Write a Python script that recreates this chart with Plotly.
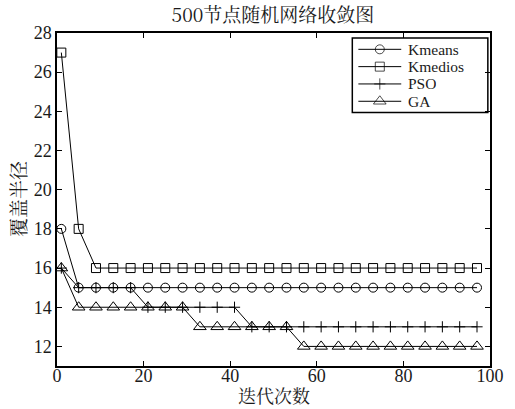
import plotly.graph_objects as go

# Iteration index at which each marker is recorded
iterations = list(range(1, 98, 4))

kmeans = [18] + [15] * 24
kmedios = [27, 18] + [16] * 23
pso = [16, 15, 15, 15, 15, 14, 14, 14, 14, 14, 14] + [13] * 14
ga = [16, 14, 14, 14, 14, 14, 14, 14, 13, 13, 13, 13, 13, 13] + [12] * 11

names = ["Kmeans", "Kmedios", "PSO", "GA"]
symbols = ["circle-open", "square-open", "cross-thin-open", "triangle-up-open"]
sizes = [9, 9, 8, 11]
values = [kmeans, kmedios, pso, ga]

serif = "Liberation Serif, DejaVu Serif, Noto Sans CJK SC, serif"
cjk = "Noto Serif CJK SC, Noto Sans CJK SC, serif"
ink = "#1a1a1a"

fig = go.Figure()
for name, vals, symbol, size in zip(names, values, symbols, sizes):
    fig.add_trace(go.Scatter(
        x=iterations, y=vals, name=name, mode="lines+markers",
        showlegend=False,
        line=dict(color="black", width=1),
        marker=dict(symbol=symbol, size=size, color="black",
                    line=dict(color="black", width=1)),
    ))

# Boxed legend in the upper-right corner, laid out on a unit overlay axis
leg_x0, leg_x1 = 0.682, 0.995
leg_y1 = 0.985
row_h = 0.052
pad = 0.008
line_x0, line_x1 = 0.696, 0.795
text_x = 0.805
leg_y0 = leg_y1 - row_h * len(names) - 2 * pad
fig.add_shape(type="rect", xref="x2", yref="y2",
              x0=leg_x0, x1=leg_x1, y0=leg_y0, y1=leg_y1,
              line=dict(color="black", width=1.5), fillcolor="rgba(0,0,0,0)",
              layer="above")
for i, (name, symbol, size) in enumerate(zip(names, symbols, sizes)):
    yc = leg_y1 - pad - row_h * (i + 0.5)
    fig.add_trace(go.Scatter(
        x=[line_x0, (line_x0 + line_x1) / 2, line_x1], y=[yc, yc, yc],
        xaxis="x2", yaxis="y2", mode="lines+markers", showlegend=False,
        hoverinfo="skip", cliponaxis=False,
        line=dict(color="black", width=1),
        marker=dict(symbol=symbol, size=[0, size, 0], color="black",
                    line=dict(color="black", width=1)),
    ))
    fig.add_annotation(xref="x2", yref="y2", x=text_x, y=yc, text=name,
                       showarrow=False, xanchor="left", yanchor="middle",
                       height=15, valign="middle",
                       font=dict(family=serif, size=15.5, color=ink))

# Axis captions
fig.add_annotation(xref="paper", yref="paper", x=0.5, y=-0.088,
                   text="迭代次数", showarrow=False,
                   xanchor="center", yanchor="middle",
                   font=dict(family=cjk, size=18, color=ink))
fig.add_annotation(xref="paper", yref="paper", x=-0.091, y=0.5,
                   text="覆盖半径", showarrow=False, textangle=-90,
                   xanchor="center", yanchor="middle",
                   font=dict(family=cjk, size=19, color=ink))

axis_common = dict(
    showline=True, linecolor="black", linewidth=1.5, mirror="ticks",
    ticks="inside", ticklen=5, tickcolor="black", showgrid=False,
    zeroline=False, automargin=False,
    tickfont=dict(family=serif, size=18, color=ink),
)

fig.update_layout(
    width=515, height=409,
    margin=dict(l=57, r=25, t=33, b=43),
    paper_bgcolor="white", plot_bgcolor="white",
    title=dict(text="500节点随机网络收敛图", x=0.53, xanchor="center",
               y=0.963, yanchor="middle",
               font=dict(family=cjk, size=19, color=ink)),
    xaxis=dict(range=[0, 100], tickvals=[0, 20, 40, 60, 80, 100],
               ticklabelstandoff=-7, **axis_common),
    yaxis=dict(range=[11, 28], tickvals=list(range(12, 29, 2)),
               **axis_common),
    xaxis2=dict(range=[0, 1], overlaying="x", visible=False, fixedrange=True),
    yaxis2=dict(range=[0, 1], overlaying="y", visible=False, fixedrange=True),
    showlegend=False,
)

fig.write_html("out.html")
